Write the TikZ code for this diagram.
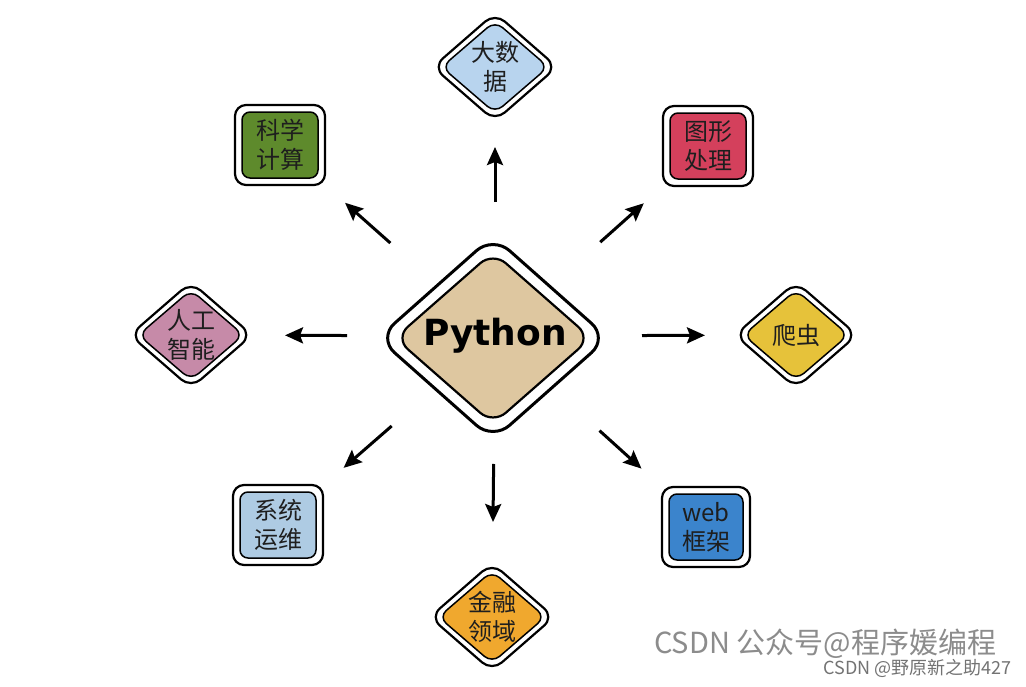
\documentclass[tikz,border=0pt]{standalone}
\usepackage{fontspec}
\newfontfamily\cjk{Noto Sans CJK SC}
\newfontfamily\pyfont{DejaVu Sans Bold}
\usetikzlibrary{arrows.meta}
\definecolor{tanc}{HTML}{DEC7A0}
\definecolor{dsblue}{HTML}{B8D4EE}
\definecolor{kxgreen}{HTML}{5E8A2C}
\definecolor{txred}{HTML}{D4405C}
\definecolor{rgpink}{HTML}{C68AA8}
\definecolor{pcyel}{HTML}{E6C23A}
\definecolor{xtblue}{HTML}{AECBE3}
\definecolor{webblue}{HTML}{3B84CC}
\definecolor{jrorange}{HTML}{F0A82E}
\definecolor{txtc}{HTML}{1E1E1E}
\tikzset{
  outerln/.style={draw=black, line width=2.2pt, fill=white},
  innerln/.style={draw=black, line width=1.5pt},
  lbl/.style={font=\cjk\fontsize{24}{29}\selectfont, text=txtc, align=center, inner sep=0pt},
  arr/.style={line width=3pt, -{Stealth[length=18pt,width=16pt,inset=3pt]}},
  wm/.style={text=black!45, inner sep=0pt, anchor=west}
}
\newcommand\dianode[9]{% name,x,y,hw,hh,color,text,r1,r2
  \draw[outerln, rounded corners=#8] ({#2-#4},#3) -- (#2,{#3-#5}) -- ({#2+#4},#3) -- (#2,{#3+#5}) -- cycle;
  \draw[innerln, fill=#6, rounded corners=#9] ({#2-0.86*#4},#3) -- (#2,{#3-0.85*#5}) -- ({#2+0.86*#4},#3) -- (#2,{#3+0.85*#5}) -- cycle;
  \node[lbl] (#1) at (#2,#3) {#7};
}
\newcommand\sqnode[7]{% name,x,y,hw,hh,color,text
  \draw[outerln, rounded corners=11pt] ({#2-#4},{#3-#5}) rectangle ({#2+#4},{#3+#5});
  \draw[innerln, fill=#6, rounded corners=8pt] ({#2-#4+7},{#3-#5+7}) rectangle ({#2+#4-7},{#3+#5-7});
  \node[lbl] (#1) at (#2,#3) {#7};
}
\begin{document}
\begin{tikzpicture}[x=1pt,y=-1pt]
\fill[white] (0,0) rectangle (1026,686);
\useasboundingbox (0,0) rectangle (1026,686);
% centre
\draw[draw=black, line width=3pt, fill=white, rounded corners=22pt] (378,338) -- (493,236) -- (608,338) -- (493,440) -- cycle;
\draw[draw=black, line width=2.2pt, fill=tanc, rounded corners=17pt] (395,338) -- (493,252) -- (591,338) -- (493,424) -- cycle;
\node[font=\pyfont\fontsize{36}{40}\selectfont, inner sep=0pt] (py) at (495,336) {Python};
% satellites
\dianode{ds}{495}{67}{62}{54}{dsblue}{大数\\据}{13pt}{10pt}
\dianode{rg}{191}{335}{61}{53}{rgpink}{人工\\智能}{13pt}{10pt}
\dianode{pc}{796}{335}{61}{53}{pcyel}{爬虫}{13pt}{10pt}
\dianode{jr}{492}{617}{62}{54}{jrorange}{金融\\领域}{13pt}{10pt}
\sqnode{kx}{280}{145}{45}{40}{kxgreen}{科学\\计算}
\sqnode{tx}{708}{146}{45}{40}{txred}{图形\\处理}
\sqnode{xt}{278}{525}{45}{40}{xtblue}{系统\\运维}
\sqnode{web}{706}{527}{44}{40}{webblue}{web\\框架}
% arrows
\draw[arr, shorten <=134pt, shorten >=80pt] (py.center) -- (ds.center);
\draw[arr, shorten <=128pt, shorten >=95pt] (py.center) -- (jr.center);
\draw[arr, shorten <=148pt, shorten >=94pt] (py.center) -- (rg.center);
\draw[arr, shorten <=147pt, shorten >=91pt] (py.center) -- (pc.center);
\draw[arr, shorten <=140pt, shorten >=87pt] (py.center) -- (kx.center);
\draw[arr, shorten <=141pt, shorten >=86pt] (py.center) -- (tx.center);
\draw[arr, shorten <=137pt, shorten >=87pt] (py.center) -- (xt.center);
\draw[arr, shorten <=141pt, shorten >=87pt] (py.center) -- (web.center);
% watermark
\node[wm, font=\cjk\fontsize{29}{32}\selectfont] (wm1) at (654,644) {CSDN 公众号@程序媛编程};
\node[wm, font=\cjk\fontsize{18}{21}\selectfont, text=black!55, anchor=east] (wm2) at (1012,668) {CSDN @野原新之助427};
\end{tikzpicture}
\end{document}
